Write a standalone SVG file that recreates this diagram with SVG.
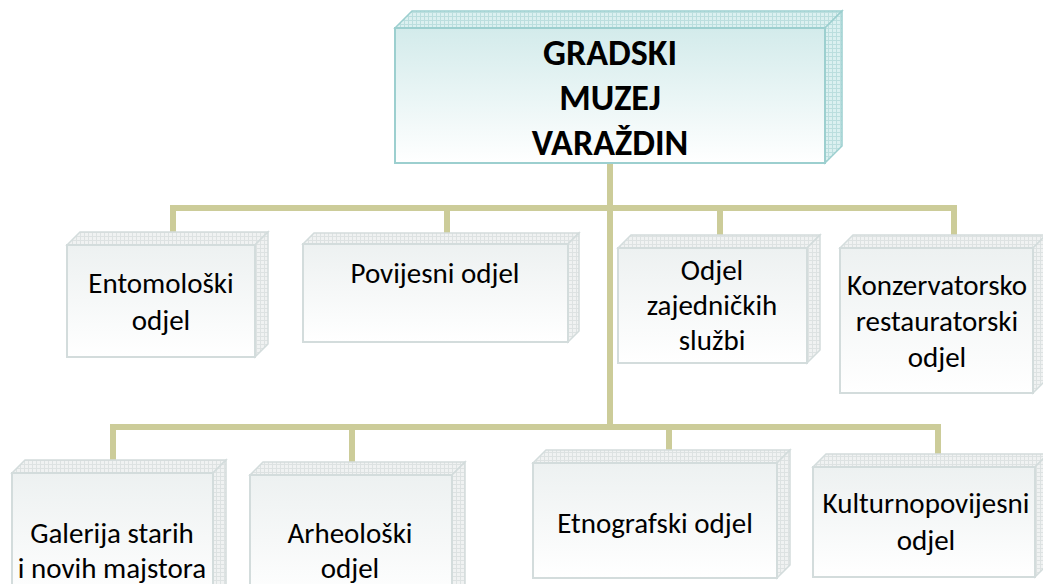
<svg xmlns="http://www.w3.org/2000/svg" width="1043" height="584" viewBox="0 0 1043 584">
<defs>
<linearGradient id="gTop" x1="0" y1="0" x2="0" y2="1">
<stop offset="0" stop-color="#d3ebeb"/>
<stop offset="1" stop-color="#ffffff"/>
</linearGradient>
<linearGradient id="gBox" x1="0" y1="0" x2="0" y2="1">
<stop offset="0" stop-color="#edf1f1"/>
<stop offset="1" stop-color="#ffffff"/>
</linearGradient>
<pattern id="pGray" width="4" height="4" patternUnits="userSpaceOnUse">
<rect width="4" height="4" fill="#f0f2f2"/>
<path d="M0,0.5H4M0.5,0V4" stroke="#dde2e2" stroke-width="1"/>
</pattern>
<pattern id="pTeal" width="4" height="4" patternUnits="userSpaceOnUse">
<rect width="4" height="4" fill="#dbf0f0"/>
<path d="M0,0.5H4M0.5,0V4" stroke="#bbdede" stroke-width="1"/>
</pattern>
</defs>
<style>
.conn{fill:none;stroke:#cccc99;stroke-width:6}
.front{fill:url(#gBox);stroke:#d3dcdc;stroke-width:2}
.side{fill:url(#pGray);stroke:#d3dcdc;stroke-width:1.5}
.tfront{fill:url(#gTop);stroke:#9ccfcf;stroke-width:2}
.tside{fill:url(#pTeal);stroke:#9ccfcf;stroke-width:1.5}
text{font-family:"Carlito","Lato","Liberation Sans",sans-serif;font-size:29px;fill:#000;text-anchor:middle}
.title{font-weight:bold;font-size:36px}
</style>
<g id="connectors">
<path class="conn" d="M610,163V427"/>
<path class="conn" d="M173,236V208H954V240"/>
<path class="conn" d="M447,208V236"/>
<path class="conn" d="M720,208V238"/>
<path class="conn" d="M113,463V427H938V458"/>
<path class="conn" d="M352,427V465"/>
<path class="conn" d="M669,427V454"/>
</g>
<g id="n-muzej">
<polygon class="tside" points="395,28 412,11 842,11 825,28"/>
<polygon class="tside" points="825,28 842,11 842,146 825,163"/>
<rect class="tfront" x="395" y="28" width="430" height="135"/>
<text class="title" x="610" y="65">GRADSKI</text>
<text class="title" x="610" y="110">MUZEJ</text>
<text class="title" x="610" y="155">VARAŽDIN</text>
</g>
<g id="n-entomoloski">
<polygon class="side" points="67,245 80,232 268,232 255,245"/>
<polygon class="side" points="255,245 268,232 268,344 255,357"/>
<rect class="front" x="67" y="245" width="188" height="112"/>
<text x="161" y="293">Entomološki</text>
<text x="161" y="330">odjel</text>
</g>
<g id="n-povijesni">
<polygon class="side" points="303,244 314,233 579,233 568,244"/>
<polygon class="side" points="568,244 579,233 579,331 568,342"/>
<rect class="front" x="303" y="244" width="265" height="98"/>
<text x="435" y="283">Povijesni odjel</text>
</g>
<g id="n-zajednicke">
<polygon class="side" points="618,248 631,235 820,235 807,248"/>
<polygon class="side" points="807,248 820,235 820,350 807,363"/>
<rect class="front" x="618" y="248" width="189" height="115"/>
<text x="712" y="280">Odjel</text>
<text x="712" y="315">zajedničkih</text>
<text x="712" y="350">službi</text>
</g>
<g id="n-konzervatorski">
<polygon class="side" points="840,248 853,235 1046,235 1033,248"/>
<polygon class="side" points="1033,248 1046,235 1046,380 1033,393"/>
<rect class="front" x="840" y="248" width="193" height="145"/>
<text x="937" y="295">Konzervatorsko</text>
<text x="937" y="331">restauratorski</text>
<text x="937" y="367">odjel</text>
</g>
<g id="n-galerija">
<polygon class="side" points="12,473 25,460 226,460 213,473"/>
<polygon class="side" points="213,473 226,460 226,600 213,600"/>
<rect class="front" x="12" y="473" width="201" height="130"/>
<text x="112" y="543">Galerija starih</text>
<text x="112" y="578">i novih majstora</text>
</g>
<g id="n-arheoloski">
<polygon class="side" points="250,475 263,462 465,462 452,475"/>
<polygon class="side" points="452,475 465,462 465,600 452,600"/>
<rect class="front" x="250" y="475" width="202" height="130"/>
<text x="350" y="543">Arheološki</text>
<text x="350" y="578">odjel</text>
</g>
<g id="n-etnografski">
<polygon class="side" points="533,463 546,450 790,450 777,463"/>
<polygon class="side" points="777,463 790,450 790,565 777,578"/>
<rect class="front" x="533" y="463" width="244" height="115"/>
<text x="655" y="533">Etnografski odjel</text>
</g>
<g id="n-kulturnopovijesni">
<polygon class="side" points="813,467 826,454 1048,454 1035,467"/>
<polygon class="side" points="1035,467 1048,454 1048,564 1035,577"/>
<rect class="front" x="813" y="467" width="222" height="110"/>
<text x="926" y="513">Kulturnopovijesni</text>
<text x="926" y="550">odjel</text>
</g>
</svg>
